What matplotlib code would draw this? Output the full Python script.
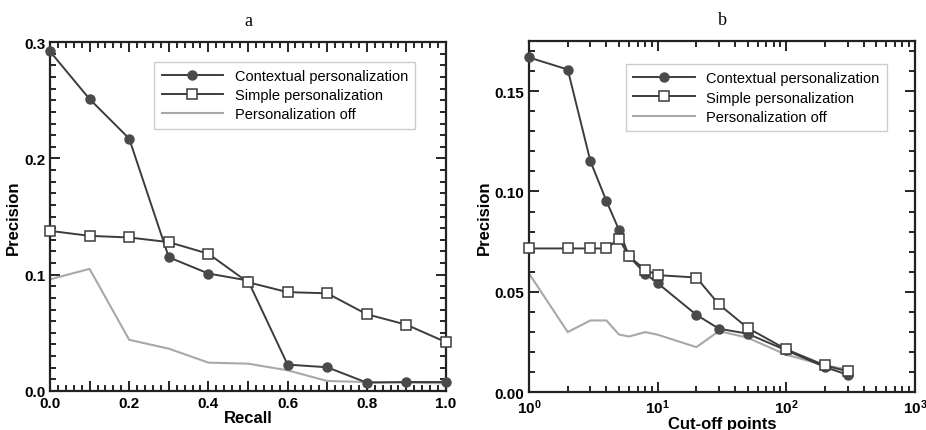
import matplotlib
matplotlib.use("Agg")
import matplotlib.pyplot as plt
from matplotlib.ticker import MultipleLocator, FuncFormatter, LogLocator, NullFormatter

plt.rcParams['font.family'] = ['Liberation Sans', 'DejaVu Sans']

# panel a: precision vs recall
recall = [0.0, 0.1, 0.2, 0.3, 0.4, 0.5, 0.6, 0.7, 0.8, 0.9, 1.0]
ctx_a = [0.292, 0.251, 0.217, 0.115, 0.101, 0.095, 0.0227, 0.0204, 0.0072, 0.0077, 0.0077]
simple_a = [0.1377, 0.1334, 0.132, 0.128, 0.118, 0.0935, 0.085, 0.084, 0.066, 0.057, 0.042]
off_a = [0.096, 0.105, 0.044, 0.0364, 0.0244, 0.0235, 0.0178, 0.0086, 0.0077, 0.0072, 0.0066]

# panel b: precision vs cut-off points
cutoff = [1, 2, 3, 4, 5, 6, 8, 10, 20, 30, 50, 100, 200, 300]
ctx_b = [0.1668, 0.1608, 0.1151, 0.0952, 0.0809, 0.0676, 0.0591, 0.0543, 0.0385, 0.0316, 0.0291, 0.0208, 0.0125, 0.0086]
simple_b = [0.0716, 0.0716, 0.0716, 0.0716, 0.0764, 0.0676, 0.061, 0.0583, 0.0571, 0.0437, 0.032, 0.0213, 0.0133, 0.0103]
off_b = [0.0591, 0.0299, 0.0357, 0.0357, 0.0287, 0.0277, 0.0299, 0.0286, 0.0224, 0.0304, 0.0271, 0.0186, 0.0133, 0.0113]

labels = ['Contextual personalization', 'Simple personalization', 'Personalization off']
DARK = '#3c3c3c'
LIGHT = '#a8a8a8'

fig = plt.figure(figsize=(9.26, 4.31), dpi=100)
ax1 = fig.add_axes([0.054, 0.0905, 0.4276, 0.8095])
ax2 = fig.add_axes([0.5713, 0.088, 0.4167, 0.8145])


def draw(ax, x, ctx, simple, off, anchor):
    ax.plot(x, ctx, color=DARK, lw=1.4, marker='o', ms=6.5, mfc='#4a4a4a', mec='#4a4a4a',
            label=labels[0], clip_on=False, zorder=3)
    ax.plot(x, simple, color=DARK, lw=1.4, marker='s', ms=7, mfc='white', mec=DARK, mew=1.1,
            label=labels[1], clip_on=False, zorder=4)
    ax.plot(x, off, color=LIGHT, lw=1.5, label=labels[2], zorder=2)
    leg = ax.legend(loc='upper right', bbox_to_anchor=anchor, borderaxespad=0, fontsize=10.5,
                    fancybox=False, framealpha=1, edgecolor='#cccccc', handlelength=4.2,
                    borderpad=0.5, labelspacing=0.35)
    leg.get_frame().set_linewidth(1.0)
    leg.set_zorder(5)
    ax.tick_params(which='both', direction='in', top=True, right=True, width=1.2, labelsize=11)
    ax.tick_params(which='major', length=7)
    ax.tick_params(which='minor', length=4)
    for s in ax.spines.values():
        s.set_linewidth(1.6)
        s.set_color('#222222')
    ax.set_ylabel('Precision', fontsize=12, fontweight='bold', labelpad=2)


draw(ax1, recall, ctx_a, simple_a, off_a, (0.922, 0.943))
ax1.set_xlim(0, 1)
ax1.set_ylim(0, 0.3)
ax1.xaxis.set_major_locator(MultipleLocator(0.1))
ax1.xaxis.set_minor_locator(MultipleLocator(0.02))
ax1.xaxis.set_major_formatter(FuncFormatter(lambda v, p: f'{v:.1f}' if round(v * 10) % 2 == 0 else ''))
ax1.yaxis.set_major_locator(MultipleLocator(0.1))
ax1.yaxis.set_minor_locator(MultipleLocator(0.01))
ax1.yaxis.set_major_formatter(FuncFormatter(lambda v, p: f'{v:.1f}'))
ax1.set_xlabel('Recall', fontsize=12, fontweight='bold', labelpad=0)
ax1.set_title('a', fontsize=13, family='Liberation Serif', pad=12)

draw(ax2, cutoff, ctx_b, simple_b, off_b, (0.927, 0.934))
ax2.set_xscale('log')
ax2.set_xlim(1, 1000)
ax2.set_ylim(0, 0.175)
ax2.xaxis.set_major_locator(LogLocator(base=10))
ax2.xaxis.set_minor_locator(LogLocator(base=10, subs=range(2, 10)))
ax2.xaxis.set_minor_formatter(NullFormatter())
ax2.yaxis.set_major_locator(MultipleLocator(0.05))
ax2.yaxis.set_minor_locator(MultipleLocator(0.01))
ax2.yaxis.set_major_formatter(FuncFormatter(lambda v, p: f'{v:.2f}'))
ax2.set_xlabel('Cut-off points', fontsize=12, fontweight='bold', labelpad=0)
ax2.set_title('b', fontsize=13, family='Liberation Serif', pad=12)

for ax in (ax1, ax2):
    for lab in ax.get_xticklabels() + ax.get_yticklabels():
        lab.set_fontweight('bold')

fig.savefig('out.png', dpi=100)
